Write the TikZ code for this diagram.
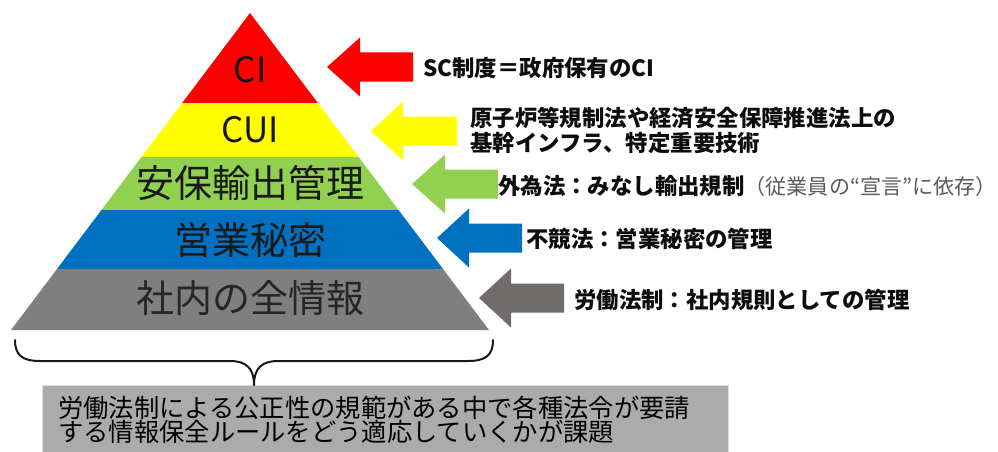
\documentclass[tikz,border=0pt]{standalone}
\usepackage{fontspec}
\newfontfamily\jp{Noto Sans CJK JP}
\definecolor{ciRed}{HTML}{FF0000}
\definecolor{cuiYellow}{HTML}{FFFF00}
\definecolor{expGreen}{HTML}{92D050}
\definecolor{secBlue}{HTML}{0070C0}
\definecolor{allGray}{HTML}{7F7F7F}
\definecolor{arrGray}{HTML}{706C6B}
\definecolor{boxGray}{HTML}{ABABAB}
\definecolor{noteGray}{HTML}{5A5A5A}
\newcommand\leftblockarrow[5]{% color, tip x, y, head-base x, right x
  \fill[#1] (#2,#3) -- (#4,{#3-29.5}) -- (#4,{#3-14.5}) -- (#5,{#3-14.5})
    -- (#5,{#3+14.5}) -- (#4,{#3+14.5}) -- (#4,{#3+29.5}) -- cycle;}
\begin{document}
\begin{tikzpicture}[x=1pt,y=-1pt,
  layerlabel/.style={font=\jp\fontsize{38}{38}\selectfont, text=black!90, inner sep=0},
  latinlabel/.style={font=\jp\fontsize{35}{35}\selectfont, text=black!92, inner sep=0},
  lawtext/.style={font=\jp\bfseries\fontsize{22.4}{25}\selectfont, text=black!95, anchor=west, inner sep=0, align=left},
  bracestyle/.style={line width=2pt, draw=black!90, line cap=round, line join=round}]
\useasboundingbox (0,0) rectangle (998,452);
% pyramid layers
\fill[ciRed] (250,13) -- (317.85,103) -- (182.15,103) -- cycle;
\fill[cuiYellow] (182.15,103) -- (317.85,103) -- (358.57,157) -- (141.43,157) -- cycle;
\fill[expGreen] (141.43,157) -- (358.57,157) -- (398.53,210) -- (101.47,210) -- cycle;
\fill[secBlue] (101.47,210) -- (398.53,210) -- (443,269) -- (57,269) -- cycle;
\fill[allGray] (57,269) -- (443,269) -- (489,330) -- (11,330) -- cycle;
% layer labels
\node[latinlabel] (lCI) at (250,70) {CI};
\node[latinlabel] (lCUI) at (250,130) {CUI};
\node[layerlabel] (lExp) at (250,183) {安保輸出管理};
\node[layerlabel] (lSec) at (250,240) {営業秘密};
\node[layerlabel, text=black!85] (lAll) at (250,298) {社内の全情報};
% arrows
\leftblockarrow{ciRed}{327}{67}{360}{413}
\leftblockarrow{cuiYellow}{371}{131}{403}{457}
\leftblockarrow{expGreen}{412}{184}{445}{498}
\leftblockarrow{secBlue}{437}{238}{469}{522}
\leftblockarrow{arrGray}{479}{298}{511}{564}
% law texts
\node[lawtext] (tCI) at (423,68) {SC制度＝政府保有のCI};
\node[lawtext] (tCUI) at (470,130.5) {原子炉等規制法や経済安全保障推進法上の\\基幹インフラ、特定重要技術};
\node[lawtext] (tExp) at (498,186) {外為法：みなし輸出規制{\mdseries\color{noteGray}\fontsize{21.1}{22}\selectfont（従業員の“宣言”に依存）}};
\node[lawtext] (tSec) at (526,239) {不競法：営業秘密の管理};
\node[lawtext] (tAll) at (574,300) {労働法制：社内規則としての管理};
% bottom box
\node[fill=boxGray, draw=black!12, line width=0.8pt, anchor=north west, minimum width=686pt, minimum height=75pt, inner sep=0] (box) at (42,385) {};
\node[font=\jp\fontsize{25.3}{24.5}\selectfont, text=black, anchor=west, align=left, inner sep=0] (boxtext) at (58,420)
  {労働法制による公正性の規範がある中で各種法令が要請\\する情報保全ルールをどう適応していくかが課題};
% brace
\coordinate (bL) at (15,340);
\coordinate (bR) at (493,340);
\coordinate (bTip) at (254,385);
\draw[bracestyle] (bL) .. controls (15,355) and (22,361) .. (40,361) -- (230,361)
  .. controls (246,361) and (254,368) .. (bTip);
\draw[bracestyle] (bTip) .. controls (254,368) and (262,361) .. (278,361) -- (468,361)
  .. controls (486,361) and (493,355) .. (bR);
\end{tikzpicture}
\end{document}
